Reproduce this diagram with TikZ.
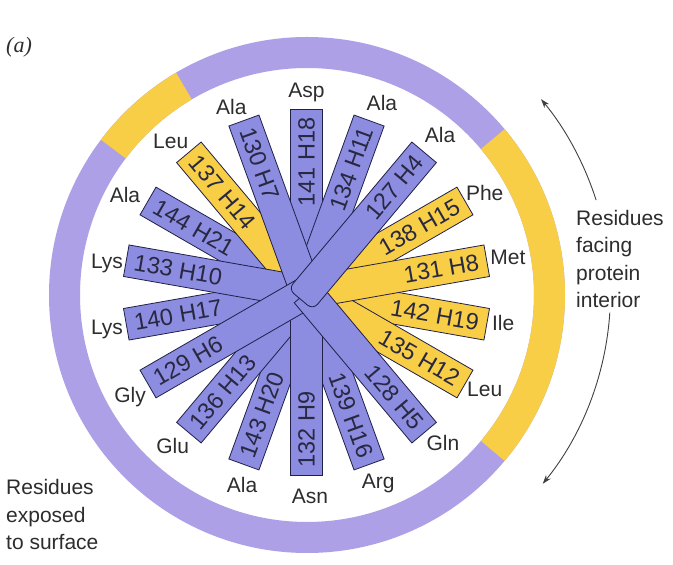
\documentclass[tikz,border=0pt]{standalone}
\usepackage{fontspec}
\setmainfont{Liberation Sans}
\newfontfamily\serifit{Liberation Serif}
\usetikzlibrary{calc,arrows.meta}
\definecolor{barblue}{RGB}{140,140,224}
\definecolor{ringpurple}{RGB}{174,160,230}
\definecolor{ringyellow}{RGB}{248,206,70}
\definecolor{edgecol}{RGB}{32,32,72}
\definecolor{txtcol}{RGB}{40,40,66}
\definecolor{lblcol}{RGB}{45,45,45}
\begin{document}
\begin{tikzpicture}[x=1pt,y=1pt,
  barB/.style={fill=barblue, draw=edgecol, line width=0.8pt},
  barY/.style={fill=ringyellow, draw=edgecol, line width=0.8pt},
  bartext/.style={inner sep=0pt, text=txtcol, font=\fontsize{23.5}{25}\selectfont},
  reslabel/.style={inner sep=0pt, text=lblcol, font=\fontsize{21}{24}\selectfont},
  note/.style={inner sep=0pt, text=lblcol, align=left, font=\fontsize{21}{27.5}\selectfont},
  arr/.style={draw=black!75, line width=0.9pt, -{Stealth[length=9pt,width=6pt]}}]
\useasboundingbox (0,0) rectangle (673,565);
\fill[white] (0,0) rectangle (673,565);
\coordinate (C) at (306.5,272.5);
\coordinate (R) at (307,270);
% ring
\fill[ringpurple, even odd rule] (R) circle[radius=258] (R) circle[radius=227];
\fill[ringyellow] ($(R)+(40:258)$) arc[start angle=40,end angle=-40,radius=258]
  -- ($(R)+(-40:227)$) arc[start angle=-40,end angle=40,radius=227] -- cycle;
\fill[ringyellow] ($(R)+(120.5:258)$) arc[start angle=120.5,end angle=143,radius=258]
  -- ($(R)+(143:227)$) arc[start angle=143,end angle=120.5,radius=227] -- cycle;
% bars
\foreach \rn/\hn/\ta/\sty/\rot/\anc/\lab/\la/\lr in {
 144/21/150/barB/-30/west/Ala/151.8/206,
 143/20/250/barB/70/west/Ala/251.5/203,
 142/19/-10/barY/-10/east/Ile/-8.8/199,
 141/18/90/barB/90/east/Asp/90/200,
 140/17/190/barB/10/west/Lys/190.6/203,
 139/16/-70/barB/-70/east/Arg/-69.4/203.5,
 138/15/30/barY/30/east/Phe/29.1/204,
 137/14/130/barY/-50/west/Leu/132/203,
 136/13/230/barB/50/west/Glu/229/204,
 135/12/-30/barY/-30/east/Leu/-28.6/203,
 134/11/70/barB/70/east/Ala/68.3/204,
 133/10/170/barB/-10/west/Lys/171.6/201.7,
 132/9/-90/barB/90/west/Asn/-89/203.5,
 131/8/10/barY/10/east/Met/10/204.6,
 130/7/110/barB/-70/west/Ala/112/200.6,
 129/6/210/barB/30/west/Gly/210.6/205,
 128/5/-50/barB/-50/east/Gln/-47.8/203}{
  \begin{scope}[shift={(C)},rotate=\ta]
    \draw[\sty] (0,-16) rectangle (183,16);
  \end{scope}
  \node[bartext, rotate=\rot, anchor=\anc] (t\rn) at ($(C)+(\ta:175)$) {\rn\ H\hn};
  \node[reslabel] (l\rn) at ($(C)+(\la:\lr)$) {\lab};
}
% residue 127 on top with rounded inner end
\begin{scope}[shift={(C)},rotate=50]
  \draw[barB] (183,-16) -- (183,16) -- (-2,16) arc[start angle=90,end angle=180,radius=7]
    -- (-9,-9) arc[start angle=180,end angle=270,radius=7] -- cycle;
\end{scope}
\node[bartext, rotate=50, anchor=east] (t127) at ($(C)+(50:175)$) {127 H4};
\node[reslabel] (l127) at ($(C)+(49.7:206.5)$) {Ala};
% notes
\node[note, anchor=north west] (inter) at (576,355) {Residues\\facing\\protein\\interior};
\node[note, anchor=north west] (surf) at (6,85.5) {Residues\\exposed\\to surface};
\node[inner sep=0pt, anchor=west, text=lblcol, font=\serifit\itshape\fontsize{22}{24}\selectfont] (lbla) at (6,518) {(a)};
% arrows
\coordinate (u0) at ($(C)+(17.7:304)$);
\draw[arr] (u0) arc[start angle=17.7,end angle=39.5,radius=304];
\coordinate (d0) at ($(C)+(-3.8:304)$);
\draw[arr] (d0) arc[start angle=-3.8,end angle=-39,radius=304];
\end{tikzpicture}
\end{document}
